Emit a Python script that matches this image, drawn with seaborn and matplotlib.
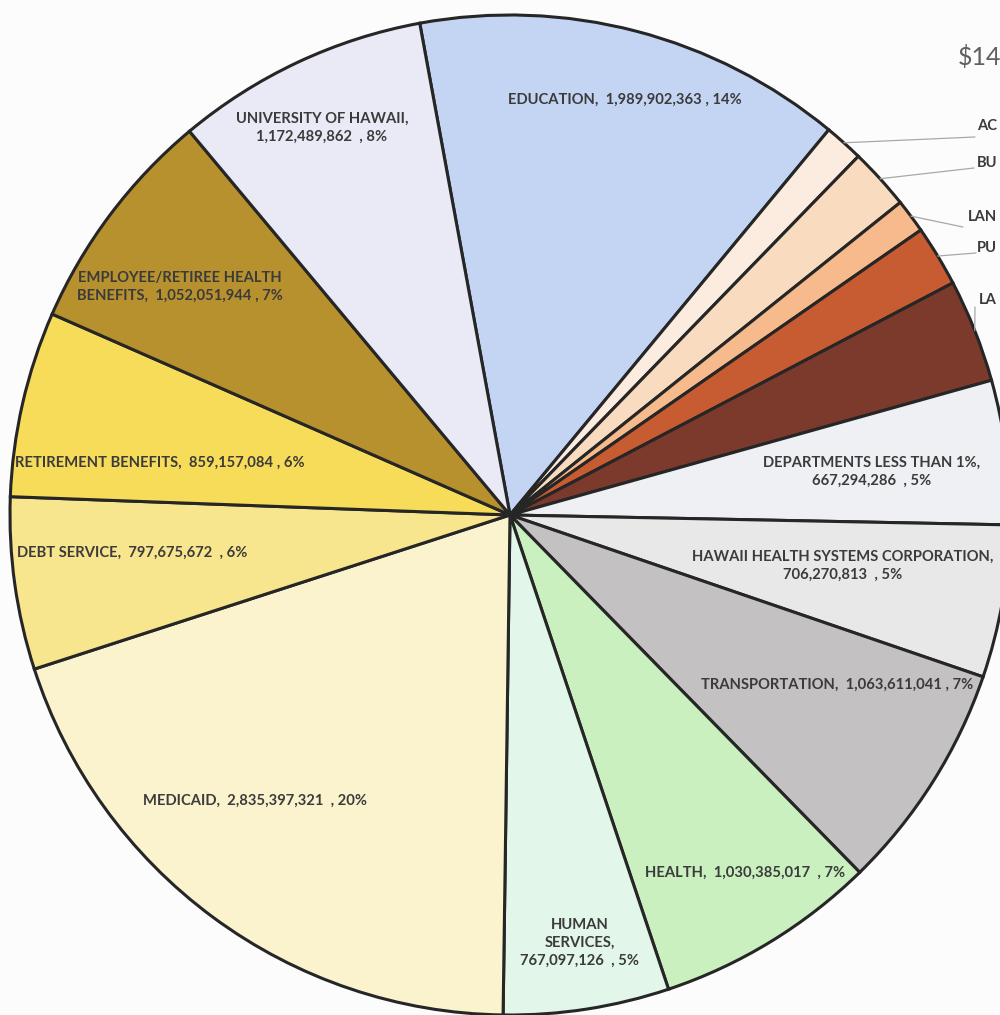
import numpy as np
import matplotlib
matplotlib.use("Agg")
import matplotlib.pyplot as plt
import seaborn as sns

# budget slices, clockwise from the top
departments = [
    "EDUCATION", "ACCOUNTING AND GENERAL SERVICES", "BUDGET AND FINANCE",
    "LAND AND NATURAL RESOURCES", "PUBLIC SAFETY", "LABOR AND INDUSTRIAL RELATIONS",
    "DEPARTMENTS LESS THAN 1%", "HAWAII HEALTH SYSTEMS CORPORATION", "TRANSPORTATION",
    "HEALTH", "HUMAN SERVICES", "MEDICAID", "DEBT SERVICE", "RETIREMENT BENEFITS",
    "EMPLOYEE/RETIREE HEALTH BENEFITS", "UNIVERSITY OF HAWAII",
]
amounts = [
    1989902363, 181200000, 284300000, 157100000, 282100000, 478200000,
    667294286, 706270813, 1063611041, 1030385017, 767097126, 2835397321,
    797675672, 859157084, 1052051944, 1172489862,
]
colors = [
    "#c4d5f3", "#fcebdf", "#f9dcc0", "#f6ba8c", "#c75b32", "#7b3a2b",
    "#eff0f4", "#e8e8e8", "#c3c1c1", "#caf0c0", "#e2f6ea", "#faf3cd",
    "#f8e68f", "#f7dc5a", "#b8912f", "#e9eaf6",
]

# label text for the big slices (index -> text)
big_labels = {
    0: "EDUCATION,  1,989,902,363 , 14%",
    6: "DEPARTMENTS LESS THAN 1%,\n667,294,286  , 5%",
    7: "HAWAII HEALTH SYSTEMS CORPORATION,\n706,270,813  , 5%",
    8: "TRANSPORTATION,  1,063,611,041 , 7%",
    9: "HEALTH,  1,030,385,017  , 7%",
    10: "HUMAN\nSERVICES,\n767,097,126  , 5%",
    11: "MEDICAID,  2,835,397,321  , 20%",
    12: "DEBT SERVICE,  797,675,672  , 6%",
    13: "RETIREMENT BENEFITS,  859,157,084 , 6%",
    14: "EMPLOYEE/RETIREE HEALTH\nBENEFITS,  1,052,051,944 , 7%",
    15: "UNIVERSITY OF HAWAII,\n1,172,489,862  , 8%",
}
big_label_pos = {
    0: (0.23, 0.83), 6: (0.724, 0.086), 7: (0.666, -0.102), 8: (0.654, -0.34),
    9: (0.47, -0.716), 10: (0.14, -0.856), 11: (-0.51, -0.572), 12: (-0.756, -0.076),
    13: (-0.70, 0.104), 14: (-0.66, 0.456), 15: (-0.376, 0.774),
}
# small slices with leader lines; only the start of each label fits on the page
small_labels = {1: "AC", 2: "BU", 3: "LAN", 4: "PU", 5: "LA"}
small_line_end = {1: (0.930, 0.756), 2: (0.928, 0.694), 3: (0.906, 0.576),
                  4: (0.932, 0.524), 5: (0.930, 0.416)}
small_text_y = {1: 0.778, 2: 0.704, 3: 0.596, 4: 0.534, 5: 0.430}
small_text_right = 0.974

sns.set_theme(style="white")
plt.rcParams["font.family"] = ["Lato", "DejaVu Sans"]

fig = plt.figure(figsize=(10, 10.15), dpi=100, facecolor="#fcfcfc")
ax = fig.add_axes([0, 0, 1, 1])
ax.set_facecolor("#fcfcfc")

wedges, _ = ax.pie(amounts, colors=colors, startangle=100.4, counterclock=False,
                   radius=1.0, center=(0, 0),
                   wedgeprops=dict(edgecolor="#262626", linewidth=2.2))

txt_color = "#3b3b3b"
for i, lab in big_labels.items():
    x, y = big_label_pos[i]
    ax.text(x, y, lab, ha="center", va="center", fontsize=10.6, fontweight="bold",
            color=txt_color, linespacing=1.35)

for i, lab in small_labels.items():
    w = wedges[i]
    mid = np.deg2rad((w.theta1 + w.theta2) / 2)
    x0, y0 = np.cos(mid), np.sin(mid)
    x1, y1 = small_line_end[i]
    ax.plot([x0, x1], [y0, y1], color="#a8a8a8", lw=0.9)
    ax.text(small_text_right, small_text_y[i], lab, ha="right", va="center",
            fontsize=10.6, fontweight="bold", color=txt_color)

ax.text(0.896, 0.916, "$14", ha="left", va="center", fontsize=18,
        color="#5f5f5f")

ax.set_xlim(-1.02, 0.98)
ax.set_ylim(-1.0, 1.03)
ax.set_aspect("auto")
ax.axis("off")

fig.savefig("out.png", dpi=100, facecolor=fig.get_facecolor())
plt.close(fig)
